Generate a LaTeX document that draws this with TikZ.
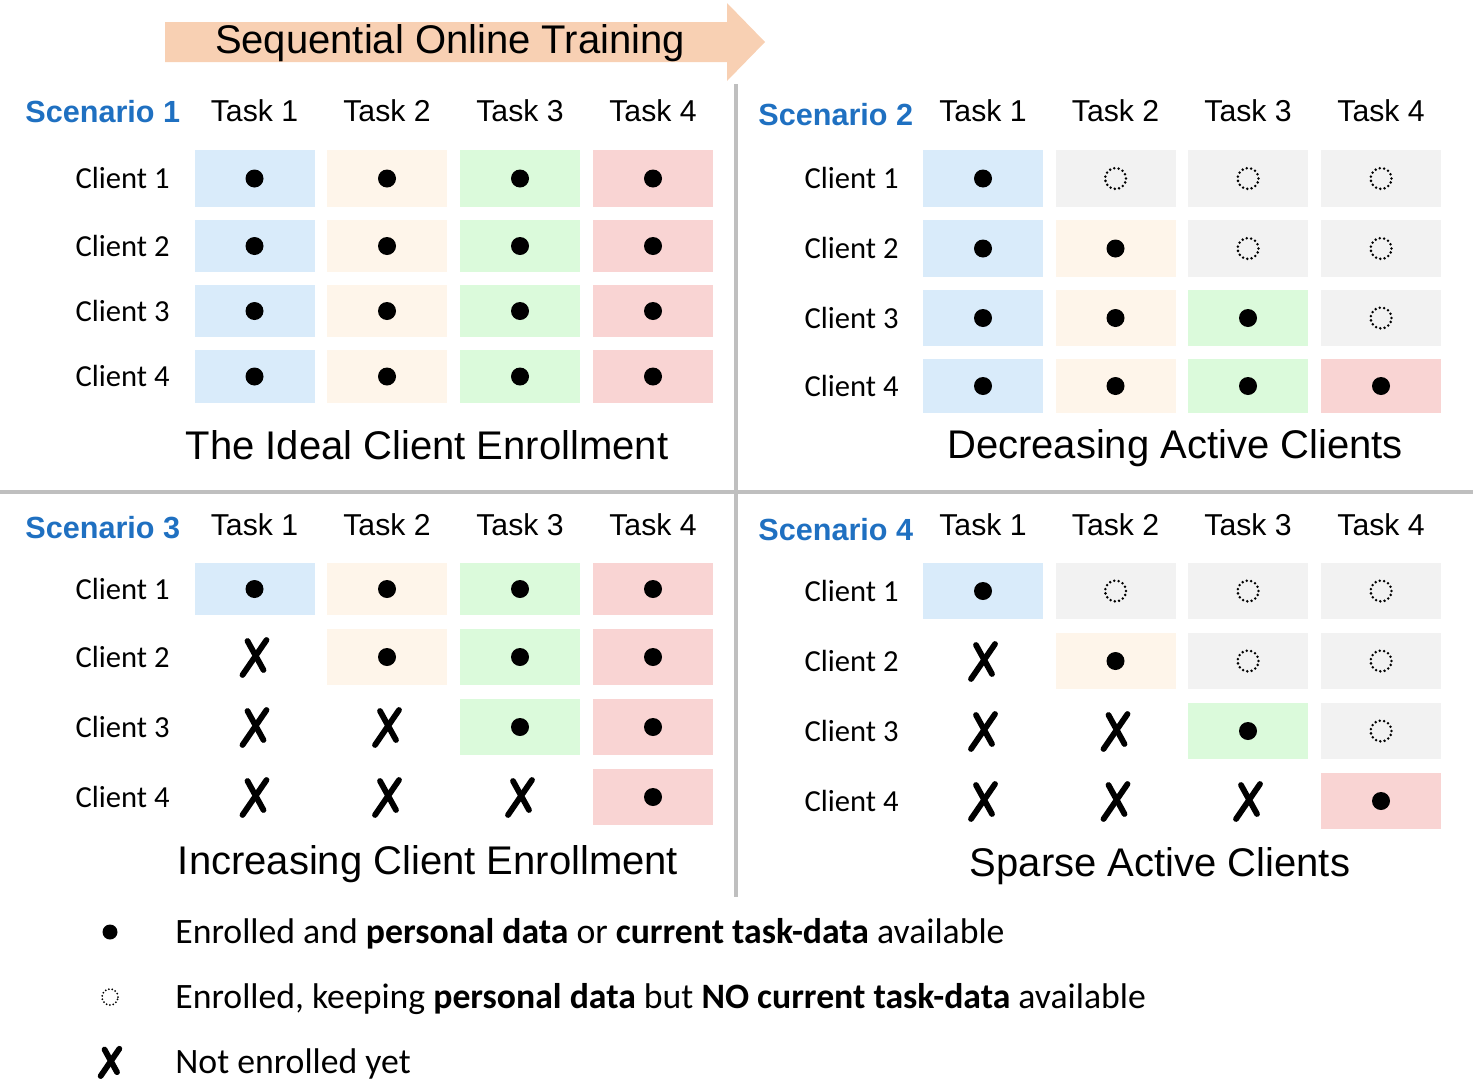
\documentclass[tikz,border=0pt]{standalone}
\usepackage{fontspec}
\setmainfont{Liberation Sans}
\newfontfamily\calib{Carlito}
\definecolor{cblue}{HTML}{D9EBFA}
\definecolor{cpeach}{HTML}{FEF5EA}
\definecolor{cgreen}{HTML}{DBFADB}
\definecolor{cred}{HTML}{F9D4D3}
\definecolor{cgray}{HTML}{F2F2F2}
\definecolor{sblue}{HTML}{1F70C1}
\definecolor{divc}{HTML}{BFBFBF}
\definecolor{arrowc}{HTML}{F8D0B3}
\tikzset{
  cellbox/.style={minimum width=60pt, inner sep=0, outer sep=0},
  dotmark/.style={circle, fill=black, inner sep=0, minimum size=9pt},
  ringmark/.style={circle, draw=black, line width=1.4pt, dash pattern=on 0pt off 2.2pt, line cap=round, inner sep=0, minimum size=10.5pt},
  xstroke/.style={line width=2.9pt, line cap=round},
  tasklbl/.style={font=\fontsize{15.1}{18}\selectfont, anchor=base, inner sep=0},
  scen/.style={font=\fontsize{15.3}{18}\selectfont\bfseries, text=sblue, anchor=base west, inner sep=0},
  clientlbl/.style={font=\calib\fontsize{15.3}{18}\selectfont, anchor=base east, inner sep=0},
  captionlbl/.style={font=\fontsize{20}{24}\selectfont, anchor=base, inner sep=0},
  legtext/.style={font=\calib\fontsize{17.85}{21}\selectfont, anchor=base west, inner sep=0},
  divider/.style={draw=divc, line width=2pt}
}
\newcommand\xmark[2]{%
  \draw[xstroke] ([shift={(-12*#2,18*#2)}]#1.center) -- ([shift={(12*#2,-17*#2)}]#1.center);
  \draw[xstroke] ([shift={(-7*#2,-16*#2)}]#1.center) -- ([shift={(9*#2,13*#2)}]#1.center);
}
\newcommand\mkcell[6]{%
  \if d#6
    \node[cellbox, fill=#5, minimum height={#4*0.5pt}] (#1) at (#2,#3) {};
    \node[dotmark] (#1-m) at (#1.center) {};
  \else\if o#6
    \node[cellbox, fill=cgray, minimum height={#4*0.5pt}] (#1) at (#2,#3) {};
    \node[ringmark] (#1-m) at (#1.center) {};
  \else
    \node[cellbox, minimum height={#4*0.5pt}] (#1) at (#2,#3) {};
    \xmark{#1}{1}
  \fi\fi
}
\begin{document}
\begin{tikzpicture}[x=0.5pt,y=-0.5pt]
\useasboundingbox (0,0) rectangle (1473,1087);
% title arrow
\fill[arrowc] (165,22) -- (727,22) -- (727,3) -- (765,42) -- (727,81) -- (727,62) -- (165,62) -- cycle;
\node[captionlbl] (title) at (450,53) {Sequential Online Training};
% dividers
\draw[divider] (0,491.5) -- (1473,491.5);
\draw[divider] (735.5,84) -- (735.5,897);
% ---------- Panel 1
\node[scen] (s1) at (25,122) {Scenario 1};
\foreach \k/\x in {1/254.5,2/387,3/520,4/653}{\node[tasklbl] (pA-t\k) at (\x,121.5) {Task \k};}
\foreach \r/\y/\h/\ca/\cb/\cc/\cd in {1/178.5/57/d/d/d/d, 2/246/52/d/d/d/d, 3/311/52/d/d/d/d, 4/376.5/53/d/d/d/d}{
  \node[clientlbl] (pA-c\r) at (170,\y+10) {Client \r};
  \foreach \k/\x/\clr/\code in {1/254.5/cblue/\ca, 2/387/cpeach/\cb, 3/520/cgreen/\cc, 4/653/cred/\cd}{
    \mkcell{pA-\r-\k}{\x}{\y}{\h}{\clr}{\code}
  }
}
\node[captionlbl] (capA) at (427,459) {The Ideal Client Enrollment};
% ---------- Panel 2
\node[scen] (s2) at (758,125) {Scenario 2};
\foreach \k/\x in {1/983,2/1115.5,3/1248,4/1381}{\node[tasklbl] (pB-t\k) at (\x,121.5) {Task \k};}
\foreach \r/\y/\h/\ca/\cb/\cc/\cd in {1/178.5/57/d/o/o/o, 2/248.5/57/d/d/o/o, 3/318/56/d/d/d/o, 4/386/54/d/d/d/d}{
  \node[clientlbl] (pB-c\r) at (899,\y+10) {Client \r};
  \foreach \k/\x/\clr/\code in {1/983/cblue/\ca, 2/1115.5/cpeach/\cb, 3/1248/cgreen/\cc, 4/1381/cred/\cd}{
    \mkcell{pB-\r-\k}{\x}{\y}{\h}{\clr}{\code}
  }
}
\node[captionlbl] (capB) at (1175,458) {Decreasing Active Clients};
% ---------- Panel 3
\node[scen] (s3) at (25,538) {Scenario 3};
\foreach \k/\x in {1/254.5,2/387,3/520,4/653}{\node[tasklbl] (pC-t\k) at (\x,535) {Task \k};}
\foreach \r/\y/\h/\ca/\cb/\cc/\cd in {1/589/52/d/d/d/d, 2/657/56/x/d/d/d, 3/727/56/x/x/d/d, 4/797/56/x/x/x/d}{
  \node[clientlbl] (pC-c\r) at (170,\y+10) {Client \r};
  \foreach \k/\x/\clr/\code in {1/254.5/cblue/\ca, 2/387/cpeach/\cb, 3/520/cgreen/\cc, 4/653/cred/\cd}{
    \mkcell{pC-\r-\k}{\x}{\y}{\h}{\clr}{\code}
  }
}
\node[captionlbl] (capC) at (428,874) {Increasing Client Enrollment};
% ---------- Panel 4
\node[scen] (s4) at (758,540) {Scenario 4};
\foreach \k/\x in {1/983,2/1115.5,3/1248,4/1381}{\node[tasklbl] (pD-t\k) at (\x,535) {Task \k};}
\foreach \r/\y/\h/\ca/\cb/\cc/\cd in {1/591/56/d/o/o/o, 2/661/56/x/d/o/o, 3/731/56/x/x/d/o, 4/801/56/x/x/x/d}{
  \node[clientlbl] (pD-c\r) at (899,\y+10) {Client \r};
  \foreach \k/\x/\clr/\code in {1/983/cblue/\ca, 2/1115.5/cpeach/\cb, 3/1248/cgreen/\cc, 4/1381/cred/\cd}{
    \mkcell{pD-\r-\k}{\x}{\y}{\h}{\clr}{\code}
  }
}
\node[captionlbl] (capD) at (1160,876) {Sparse Active Clients};
% ---------- Legend
\node[circle, fill=black, inner sep=0, minimum size=7.5pt] (legdot) at (110,932) {};
\node[circle, draw=black, line width=1pt, dash pattern=on 0pt off 1.7pt, line cap=round, inner sep=0, minimum size=8pt] (legring) at (110,997) {};
\node[inner sep=0] (legx) at (110,1062) {};
\xmark{legx}{0.78}
\node[legtext] (leg1) at (175,943) {Enrolled and \textbf{personal data} or \textbf{current task-data} available};
\node[legtext] (leg2) at (175,1008) {Enrolled, keeping \textbf{personal data} but \textbf{NO current task-data} available};
\node[legtext] (leg3) at (175,1073) {Not enrolled yet};
\end{tikzpicture}
\end{document}
